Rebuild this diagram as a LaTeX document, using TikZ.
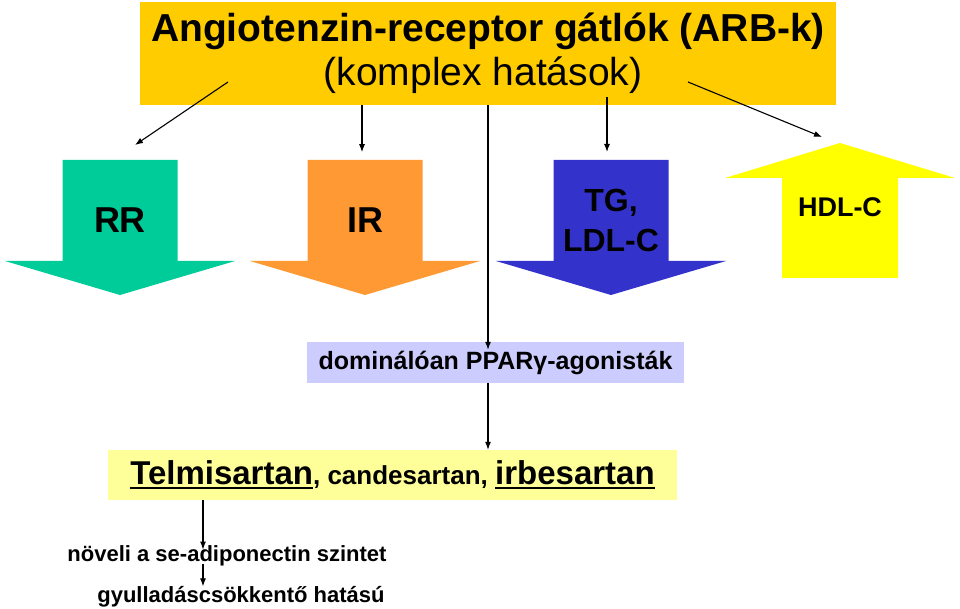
\documentclass[tikz,border=0pt]{standalone}
\usepackage{fontspec}
\setmainfont{Liberation Sans}
\usetikzlibrary{arrows.meta}

\definecolor{topgold}{HTML}{FFCC00}
\definecolor{rrgreen}{HTML}{00CC99}
\definecolor{irorange}{HTML}{FF9933}
\definecolor{tgblue}{HTML}{3333CC}
\definecolor{hdlyellow}{HTML}{FFFF00}
\definecolor{pparblue}{HTML}{CCCCFF}
\definecolor{telmiyellow}{HTML}{FFFF99}

\newcommand{\ulword}[1]{\setbox0\hbox{#1}\rlap{\rule[-4.5pt]{\wd0}{2.6pt}}\box0}

\begin{document}
\begin{tikzpicture}[x=1pt, y=-1pt, >={Latex[length=8pt,width=6pt]},
                every node/.style={inner sep=0pt, font=\bfseries},
                link/.style={->, line width=1.1pt}]

\useasboundingbox (0,0) rectangle (960,609);

% top box with title
\node[fill=topgold, minimum width=696pt, minimum height=103pt] (topbox) at (488,53.5) {};
\node[font=\bfseries\fontsize{39}{44}\selectfont] (title) at (488,31) {Angiotenzin-receptor gátlók (ARB-k)};
\node[font=\fontsize{39}{44}\selectfont] (subtitle) at (483,75) {(komplex hatások)};

% block arrows
\foreach \cx/\col in {120/rrgreen, 365/irorange, 611/tgblue}
  \fill[\col] (\cx-57.5,160) -- (\cx+57.5,160) -- (\cx+57.5,261) -- (\cx+115,261)
    -- (\cx,295) -- (\cx-115,261) -- (\cx-57.5,261) -- cycle;
\fill[hdlyellow] (782,278) -- (898,278) -- (898,178) -- (955,178) -- (840,143)
  -- (725,178) -- (782,178) -- cycle;

\node[font=\bfseries\fontsize{36}{40}\selectfont] (rr) at (120,220) {RR};
\node[font=\bfseries\fontsize{36}{40}\selectfont] (ir) at (365,220) {IR};
\node[font=\bfseries\fontsize{32}{40}\selectfont, align=center] (tg) at (611,220) {TG,\\LDL-C};
\node[font=\bfseries\fontsize{27}{32}\selectfont] (hdl) at (840,207) {HDL-C};

% lower boxes
\node[fill=pparblue, minimum width=377pt, minimum height=41pt,
      font=\bfseries\fontsize{25}{30}\selectfont] (ppar) at (495.5,362.5) {dominálóan PPARγ-agonisták};
\node[fill=telmiyellow, minimum width=569pt, minimum height=50pt,
      font=\bfseries\fontsize{26}{30}\selectfont] (telmi) at (392.5,475)
      {{\fontsize{33}{38}\selectfont\ulword{Telmisartan}}, candesartan, {\fontsize{33}{38}\selectfont\ulword{irbesartan}}};
\node[font=\bfseries\fontsize{22}{26}\selectfont] (noveli) at (227,556) {növeli a se-adiponectin szintet};
\node[font=\bfseries\fontsize{22}{26}\selectfont] (gyull) at (241,597) {gyulladáscsökkentő hatású};

% connector ends
\coordinate (rrstart) at (228,82);
\coordinate (rrend) at (135,145);
\coordinate (hdlstart) at (688,82);
\coordinate (hdlend) at (822,137);
\coordinate (tgstart) at (607,97);
\coordinate (mid) at (488,0);
\coordinate (low) at (203,0);

\draw[link] (rrstart) -- (rrend);
\draw[link] (topbox.south -| ir) ++(-3,0) -- ++(0,47);
\draw[link] (tgstart) -- (tgstart |- 0,152);
\draw[link] (hdlstart) -- (hdlend);
\draw[link] (topbox.south -| mid) -- ([yshift=-8pt]ppar.north -| mid);
\draw[link] (ppar.south -| mid) -- (telmi.north -| mid);
\draw[link] (telmi.south -| low) -- ([yshift=-4pt]noveli.north -| low);
\draw[link] ([yshift=2pt]noveli.south -| low) -- (gyull.north -| low);

\end{tikzpicture}
\end{document}
